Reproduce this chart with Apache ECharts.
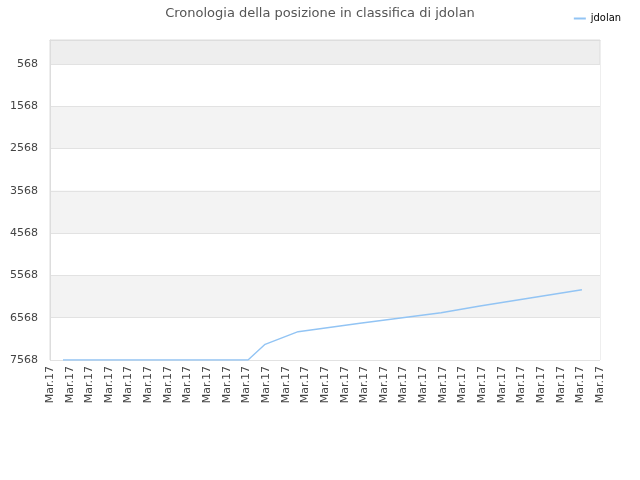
<!DOCTYPE html>
<html>
<head>
<meta charset="utf-8">
<script src="https://cdn.jsdelivr.net/npm/echarts@6/dist/echarts.min.js"></script>
<style>
  html, body { margin: 0; padding: 0; background: #fff; }
  #chart { width: 640px; height: 480px; }
</style>
</head>
<body>
<div id="chart"></div>
<script>
// x ticks: 29 labels, all the same date
const tickLabels = Array(29).fill('Mar.17');
const yTicks = [568, 1568, 2568, 3568, 4568, 5568, 6568, 7568];

// points: [x position on tick scale, rank]
const rankX = [0.66, 10.08, 10.95, 12.63, 15.78, 19.91, 21.89, 27.08];
const rankY = [7568, 7568, 7197, 6899, 6700, 6450, 6291, 5906];

const myChart = echarts.init(document.getElementById('chart'));
const option = {
  animation: false,
  title: {
    text: 'Cronologia della posizione in classifica di jdolan',
    left: 'center',
    top: 2,
    textStyle: {
      fontFamily: 'DejaVu Sans',
      fontSize: 13,
      fontWeight: 'normal',
      color: '#555',
    },
  },
  legend: {
    right: 14,
    top: 8,
    itemWidth: 12,
    itemHeight: 2,
    itemGap: 6,
    textStyle: {
      fontFamily: 'DejaVu Sans Condensed',
      fontSize: 11,
      color: '#000',
    },
    data: [{ name: 'jdolan', icon: 'rect' }],
  },
  grid: {
    left: 50,
    right: 40,
    top: 40,
    bottom: 120,
    show: true,
    backgroundColor: '#eeeeee',
    borderColor: '#dddddd',
    borderWidth: 1,
  },
  xAxis: {
    type: 'value',
    min: 0,
    max: tickLabels.length - 1,
    interval: 1,
    axisLine: { show: true, lineStyle: { color: '#dddddd' } },
    axisTick: { show: false },
    splitLine: { show: false },
    axisLabel: {
      rotate: 90,
      margin: 6,
      fontFamily: 'DejaVu Sans',
      fontSize: 11,
      color: '#444',
      showMinLabel: true,
      showMaxLabel: true,
      formatter: (value) => tickLabels[Math.round(value)],
    },
  },
  yAxis: {
    type: 'value',
    inverse: true,
    min: 0,
    max: 7568,
    axisLine: { show: true, lineStyle: { color: '#dddddd' } },
    axisTick: { show: false, customValues: yTicks },
    axisLabel: {
      customValues: yTicks,
      margin: 12,
      fontFamily: 'DejaVu Sans',
      fontSize: 11,
      color: '#444',
      formatter: (value) => String(value),
    },
    splitLine: { show: true, lineStyle: { color: '#e2e2e2' } },
    splitArea: { show: true, areaStyle: { color: ['#ffffff', '#f3f3f3'] } },
  },
  color: ['#92c4f4'],
  series: [
    {
      name: 'jdolan',
      type: 'line',
      showSymbol: false,
      lineStyle: { width: 1.4 },
      data: rankX.map((x, i) => [x, rankY[i]]),
    },
  ],
};
myChart.setOption(option);
</script>
</body>
</html>
